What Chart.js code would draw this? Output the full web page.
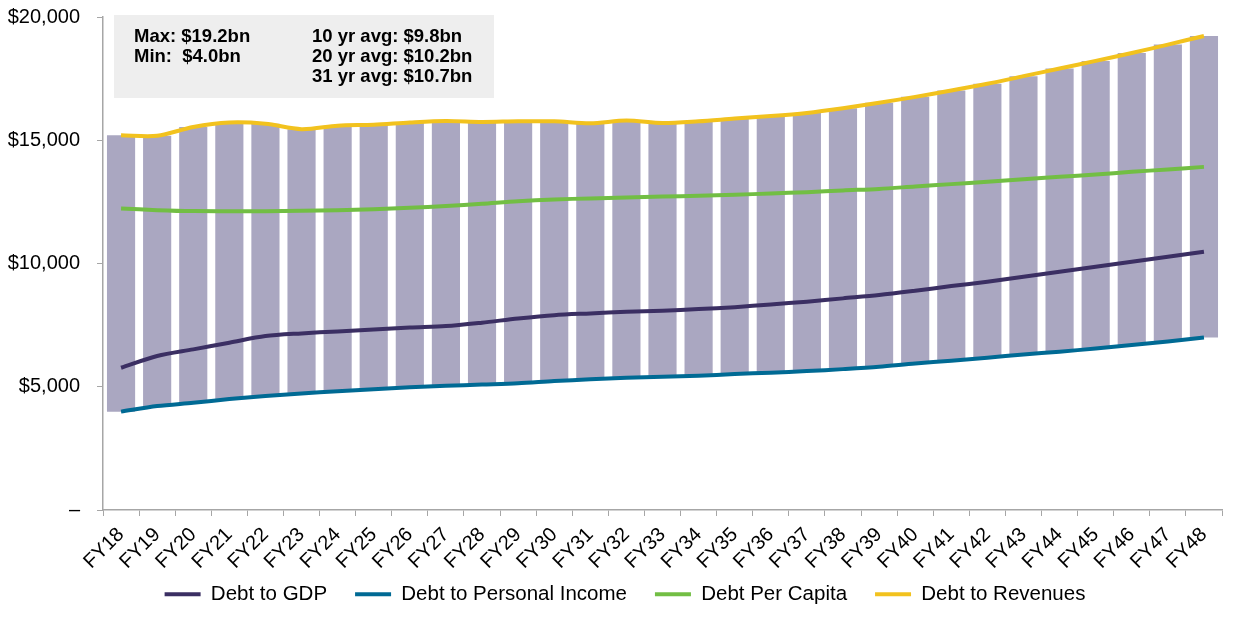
<!DOCTYPE html>
<html>
<head>
<meta charset="utf-8">
<script src="https://cdn.jsdelivr.net/npm/chart.js@4"></script>
<style>
  html, body { margin: 0; padding: 0; background: #fff; }
  #wrap { width: 1240px; height: 627px; position: relative; }
</style>
</head>
<body>
<div id="wrap"><canvas id="c" width="1240" height="627"></canvas></div>
<script>
const years = ['FY18','FY19','FY20','FY21','FY22','FY23','FY24','FY25','FY26','FY27','FY28','FY29','FY30','FY31','FY32','FY33','FY34','FY35','FY36','FY37','FY38','FY39','FY40','FY41','FY42','FY43','FY44','FY45','FY46','FY47','FY48'];

const debtToGDP = [5770, 6245, 6515, 6785, 7055, 7165, 7245, 7325, 7405, 7460, 7600, 7770, 7905, 7975, 8040, 8085, 8150, 8230, 8340, 8450, 8585, 8720, 8895, 9085, 9260, 9460, 9665, 9865, 10070, 10270, 10475];
const debtToPersonalIncome = [3990, 4215, 4350, 4500, 4625, 4730, 4815, 4895, 4975, 5040, 5090, 5140, 5230, 5300, 5365, 5405, 5445, 5515, 5570, 5635, 5715, 5810, 5945, 6055, 6175, 6310, 6420, 6555, 6690, 6840, 7000];
const debtPerCapita = [12230, 12165, 12125, 12120, 12120, 12140, 12165, 12205, 12260, 12330, 12425, 12530, 12600, 12640, 12680, 12720, 12745, 12790, 12840, 12895, 12965, 13025, 13125, 13220, 13320, 13420, 13515, 13610, 13720, 13815, 13920];
const debtToRevenues = [15200, 15180, 15540, 15720, 15670, 15450, 15590, 15630, 15720, 15780, 15740, 15770, 15770, 15690, 15800, 15700, 15770, 15880, 15980, 16110, 16300, 16520, 16760, 17020, 17290, 17600, 17910, 18220, 18540, 18880, 19230];

const yTicks = [0, 5000, 10000, 15000, 20000];
const statsLeft = ['Max: $19.2bn', 'Min:  $4.0bn'];
const statsRight = ['10 yr avg: $9.8bn', '20 yr avg: $10.2bn', '31 yr avg: $10.7bn'];

const FONT = "'Liberation Sans', Arial, Helvetica, sans-serif";
const AXIS = '#A6A6A6';

const rangeBars = debtToPersonalIncome.map((v, i) => [v, debtToRevenues[i]]);

const statsBox = {
  id: 'statsBox',
  beforeDatasetsDraw(chart) {
    const { ctx, chartArea } = chart;
    const x0 = chartArea.left + 11, y0 = chartArea.top - 2;
    ctx.save();
    ctx.fillStyle = '#EEEEEE';
    ctx.fillRect(x0, y0, 380, 83);
    ctx.fillStyle = '#000';
    ctx.font = 'bold 18.5px ' + FONT;
    ctx.textBaseline = 'middle';
    ctx.textAlign = 'left';
    statsLeft.forEach((t, i) => ctx.fillText(t, x0 + 20, y0 + 22 + i * 20));
    statsRight.forEach((t, i) => ctx.fillText(t, x0 + 198, y0 + 22 + i * 20));
    ctx.restore();
  }
};

const legendShift = {
  id: 'legendShift',
  afterLayout(chart) {
    const lg = chart.legend;
    if (!lg) return;
    lg.left += 14; lg.right += 14;
    lg.top -= 21; lg.bottom -= 21;
  }
};

const lineDS = (label, data, color, w) => ({
  type: 'line', label, data, borderColor: color, backgroundColor: color,
  borderWidth: w, pointRadius: 0, pointHoverRadius: 0, tension: 0.3, fill: false, order: 1
});

new Chart(document.getElementById('c'), {
  data: {
    labels: years,
    datasets: [
      lineDS('Debt to GDP', debtToGDP, '#3B2F63', 4),
      lineDS('Debt to Personal Income', debtToPersonalIncome, '#006A94', 4),
      lineDS('Debt Per Capita', debtPerCapita, '#72BE44', 4),
      lineDS('Debt to Revenues', debtToRevenues, '#F2C21E', 4),
      {
        type: 'bar', label: 'Range', data: rangeBars,
        backgroundColor: '#AAA7C1', borderWidth: 0,
        barPercentage: 0.78, categoryPercentage: 1.0, order: 10
      }
    ]
  },
  options: {
    responsive: false,
    animation: false,
    layout: { padding: { top: 17, right: 18, left: 0, bottom: 0 } },
    plugins: {
      tooltip: { enabled: false },
      legend: {
        position: 'bottom',
        maxHeight: 50,
        labels: {
          filter: (item) => item.text !== 'Range',
          usePointStyle: true,
          pointStyle: 'line',
          pointStyleWidth: 36,
          padding: 28,
          color: '#000',
          font: { family: FONT, size: 20.5 }
        }
      }
    },
    scales: {
      x: {
        type: 'category',
        offset: true,
        grid: { display: true, drawOnChartArea: false, drawTicks: true, tickLength: 6, color: AXIS, offset: true },
        border: { color: AXIS, width: 1.5 },
        ticks: { color: '#000', font: { family: FONT, size: 20 }, minRotation: 45, maxRotation: 45, autoSkip: false, padding: 7 },
        afterFit(scale) { scale.height = 67; }
      },
      y: {
        min: 0, max: 20000,
        afterBuildTicks(scale) { scale.ticks = yTicks.map(v => ({ value: v })); },
        grid: { display: true, drawOnChartArea: false, drawTicks: true, tickLength: 6, color: AXIS },
        border: { color: AXIS, width: 1.5 },
        ticks: {
          color: '#000', font: { family: FONT, size: 20 }, padding: 17,
          callback: (v) => v === 0 ? '–' : '$' + v.toLocaleString('en-US')
        },
        afterFit(scale) { scale.width = 103; scale.paddingTop = 0; scale.paddingBottom = 0; }
      }
    }
  },
  plugins: [statsBox, legendShift]
});
</script>
</body>
</html>
